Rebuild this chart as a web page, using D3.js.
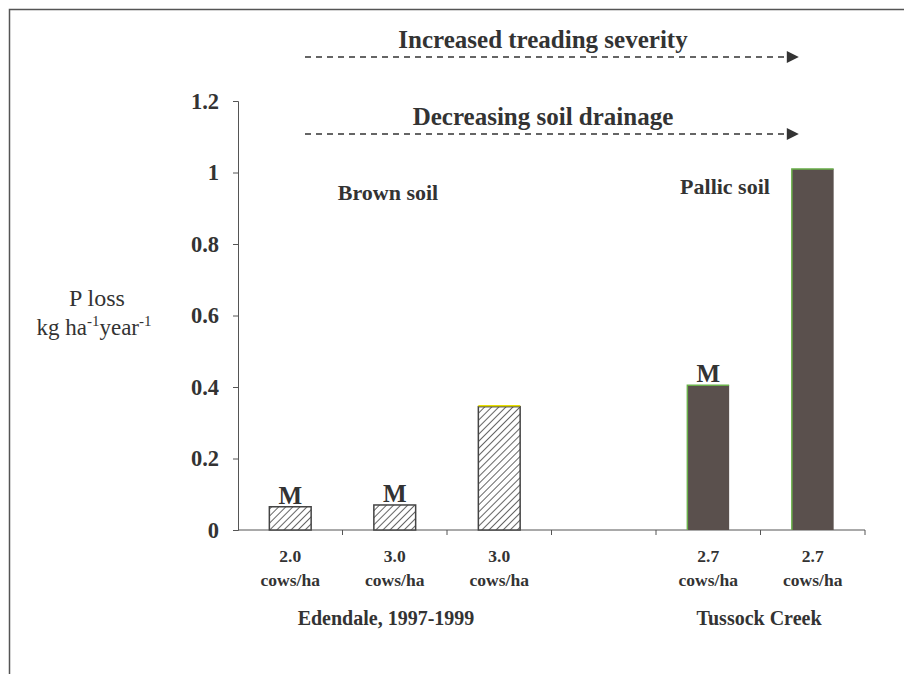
<!DOCTYPE html>
<html><head><meta charset="utf-8">
<script src="https://cdn.jsdelivr.net/npm/d3@7"></script>
<style>body{margin:0;background:#fff}svg{display:block}</style>
</head><body><div id="chart"></div>
<script>
const categories = ["c1","c2","c3","gap","c4","c5"];
const rateLabels = ["2.0","3.0","3.0","","2.7","2.7"];
const unitLabels = ["cows/ha","cows/ha","cows/ha","","cows/ha","cows/ha"];
const values = [0.065, 0.07, 0.345, null, 0.405, 1.01];
const soilType = ["brown","brown","brown",null,"pallic","pallic"];
const mLabels = ["M","M","","","M",""];
const yTicks = [0,0.2,0.4,0.6,0.8,1,1.2];

const FONT="'Liberation Serif','DejaVu Serif',serif";
const W=904,H=674;
const svg=d3.select("#chart").append("svg").attr("width",W).attr("height",H)
  .style("font-family",FONT);
const defs=svg.append("defs");
const pat=defs.append("pattern").attr("id","hatch").attr("patternUnits","userSpaceOnUse")
  .attr("width",5).attr("height",5).attr("patternTransform","rotate(45)");
pat.append("rect").attr("width",5).attr("height",5).attr("fill","#fff");
pat.append("line").attr("x1",0).attr("y1",0).attr("x2",0).attr("y2",5).attr("stroke","#4a4a4a").attr("stroke-width",1.7);
defs.append("marker").attr("id","arrow").attr("viewBox","0 0 10 10").attr("refX",1).attr("refY",5)
  .attr("markerWidth",14).attr("markerHeight",12).attr("markerUnits","userSpaceOnUse").attr("orient","auto")
  .append("path").attr("d","M0,0L10,5L0,10Z").attr("fill","#333");

function txt(g){return g.append("text").style("font-family",FONT).attr("fill","#333");}

// frame
svg.append("path").attr("d","M9.5,674V9.5H904").attr("fill","none").attr("stroke","#555").attr("stroke-width",1.5);

const x0=238,x1=865,yTop=101,yBot=530;
const x=d3.scaleBand().domain(categories).range([x0,x1]).paddingInner(0.6).paddingOuter(0.3);
const y=d3.scaleLinear().domain([0,1.2]).range([yBot,yTop]);
const step=x.step();

// y axis
const ya=svg.append("g").attr("transform",`translate(${x0},0)`)
  .call(d3.axisLeft(y).tickValues(yTicks).tickSize(5).tickFormat(d=>d3.format("")(d)));
ya.select(".domain").attr("stroke","#555");
ya.selectAll(".tick line").attr("stroke","#555");
ya.attr("font-family",null);
ya.selectAll(".tick text").attr("x",-19).attr("font-size",22.5).attr("font-weight","bold")
  .style("font-family",FONT).attr("fill","#333");

// x axis: boundaries ticks
const xa=svg.append("g").attr("transform",`translate(0,${yBot})`);
xa.append("line").attr("x1",x0).attr("x2",x1).attr("stroke","#555");
categories.forEach((c,i)=>{
  const bx=x(c)-(step-x.bandwidth())/2+step;
  xa.append("line").attr("x1",bx).attr("x2",bx).attr("y1",0).attr("y2",5).attr("stroke","#555");
});

// bars
const bw=x.bandwidth();
categories.forEach((c,i)=>{
  const v=values[i]; if(v==null) return;
  const bx=x(c), by=y(v), bh=y(0)-y(v);
  if(soilType[i]==="brown"){
    svg.append("rect").attr("x",bx).attr("y",by).attr("width",bw).attr("height",bh)
      .attr("fill","url(#hatch)").attr("stroke","#444").attr("stroke-width",1.5);
    if(i===2) svg.append("line").attr("x1",bx).attr("x2",bx+bw).attr("y1",by-1).attr("y2",by-1).attr("stroke","#e8e000").attr("stroke-width",1.5);
  } else {
    svg.append("rect").attr("x",bx).attr("y",by).attr("width",bw).attr("height",bh).attr("fill","#5a504d");
    svg.append("path").attr("d",`M${bx},${y(0)}V${by}H${bx+bw}`).attr("fill","none").attr("stroke","#6ab04a").attr("stroke-width",1.5);
  }
  if(mLabels[i]) txt(svg).attr("x",bx+bw/2).attr("y",by-3).attr("text-anchor","middle")
    .attr("font-size",25).attr("font-weight","bold").text(mLabels[i]);
});

// category labels
categories.forEach((c,i)=>{
  if(!rateLabels[i]) return;
  const cx=x(c)+bw/2;
  txt(svg).attr("x",cx).attr("y",562).attr("text-anchor","middle").attr("font-size",17.5).attr("font-weight","bold").text(rateLabels[i]);
  txt(svg).attr("x",cx).attr("y",586).attr("text-anchor","middle").attr("font-size",17.5).attr("font-weight","bold").text(unitLabels[i]);
});
txt(svg).attr("x",386).attr("y",625).attr("text-anchor","middle").attr("font-size",20).attr("font-weight","bold").text("Edendale, 1997-1999");
txt(svg).attr("x",759).attr("y",625).attr("text-anchor","middle").attr("font-size",20).attr("font-weight","bold").text("Tussock Creek");

// soil labels
txt(svg).attr("x",388).attr("y",200).attr("text-anchor","middle").attr("font-size",22).attr("font-weight","bold").text("Brown soil");
txt(svg).attr("x",725).attr("y",194).attr("text-anchor","middle").attr("font-size",22).attr("font-weight","bold").text("Pallic soil");

// arrows
[["Increased treading severity",48,57],["Decreasing soil drainage",125,134]].forEach(([t,ty,ay])=>{
  txt(svg).attr("x",543).attr("y",ty).attr("text-anchor","middle").attr("font-size",25).attr("font-weight","bold").text(t);
  svg.append("line").attr("x1",305).attr("x2",788).attr("y1",ay).attr("y2",ay).attr("stroke","#333").attr("stroke-width",1.6)
    .attr("stroke-dasharray","6,5").attr("marker-end","url(#arrow)");
});

// y label
txt(svg).attr("text-anchor","middle").attr("font-size",24).attr("x",97).attr("y",306).text("P loss");
const yl2=txt(svg).attr("text-anchor","middle").attr("font-size",23).attr("x",94).attr("y",335);
yl2.append("tspan").text("kg ha");
yl2.append("tspan").attr("dy",-9).attr("font-size",15).text("-1");
yl2.append("tspan").attr("dy",9).text("year");
yl2.append("tspan").attr("dy",-9).attr("font-size",15).text("-1");
</script></body></html>
